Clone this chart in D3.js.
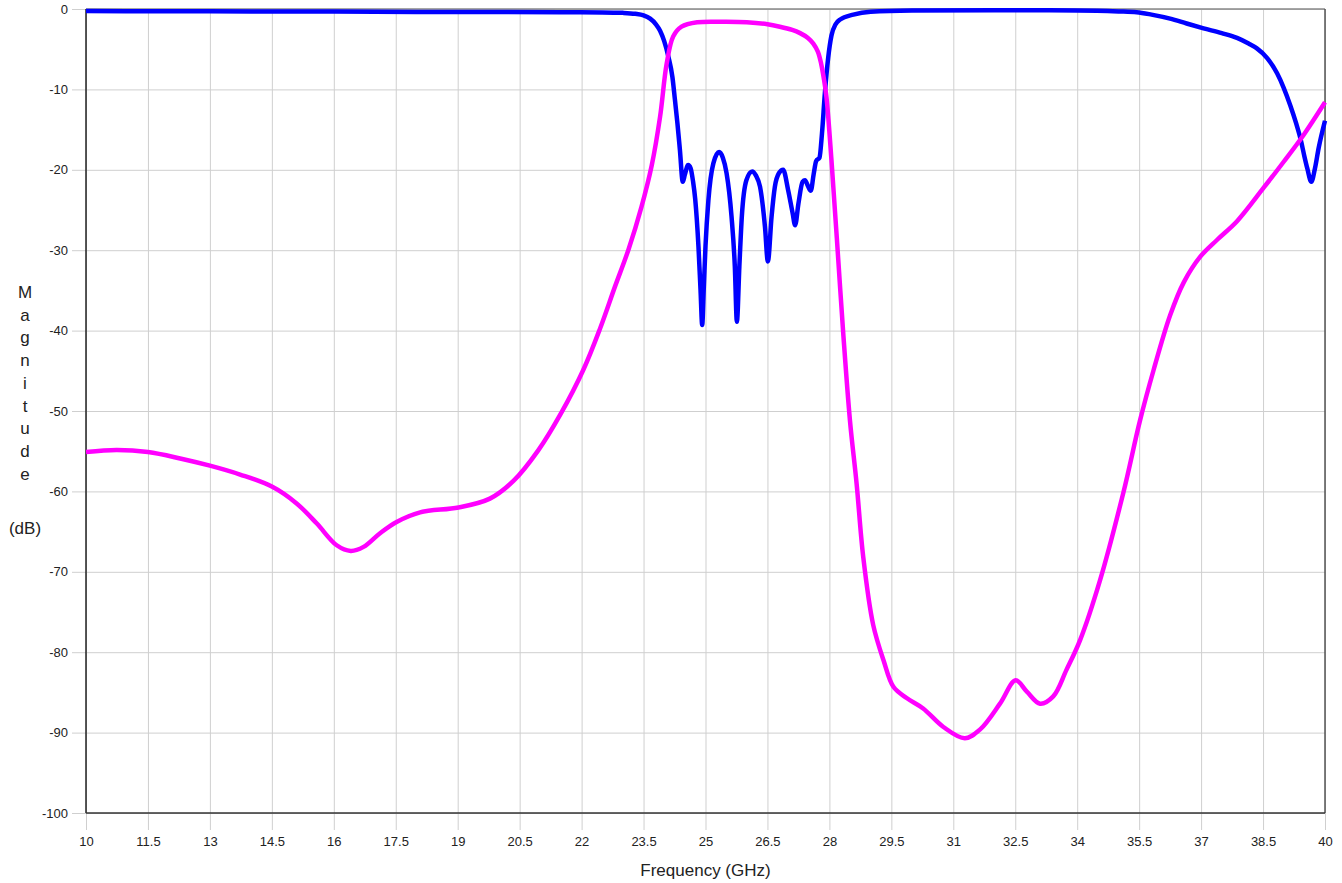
<!DOCTYPE html>
<html>
<head>
<meta charset="utf-8">
<script src="https://cdn.jsdelivr.net/npm/d3@7"></script>
<style>
  html, body { margin: 0; padding: 0; background: #fff; }
  svg text { font-family: "Liberation Sans Narrow", "Arial Narrow", "Liberation Sans", Arial, sans-serif; fill: #222; }
  .title { font-family: "Liberation Sans", Arial, sans-serif !important; }
</style>
</head>
<body>
<svg id="chart" width="1342" height="883"></svg>
<script>

// Data (GHz, dB)

var s11Freq = [10, 12, 14, 16, 18, 20, 21.5, 22.5, 23.0, 23.3, 23.5, 23.66, 23.8, 23.9, 24.0, 24.1, 24.2, 24.26,
  24.32, 24.38, 24.45, 24.5, 24.58, 24.64, 24.7, 24.75, 24.83, 24.88, 24.92, 24.96, 25.0, 25.07, 25.19, 25.33,
  25.42, 25.51, 25.63, 25.71, 25.76, 25.82, 25.88, 25.99, 26.13, 26.22, 26.32, 26.44, 26.51, 26.6, 26.68, 26.78,
  26.88, 27.0, 27.11, 27.17, 27.25, 27.35, 27.41, 27.48, 27.55, 27.62, 27.68, 27.76, 27.82, 27.89, 27.97, 28.05,
  28.15, 28.26, 28.58, 29.0, 30, 32, 34, 35.0, 35.44, 35.8, 36.25, 36.65, 37.06, 37.5, 37.87, 38.15, 38.35, 38.6,
  38.84, 39.0, 39.16, 39.3, 39.41, 39.5, 39.57, 39.67, 39.75, 39.85, 40];

var s11 = [-0.25, -0.28, -0.3, -0.32, -0.36, -0.38, -0.4, -0.42, -0.48, -0.6, -0.8, -1.2, -1.9, -2.7, -4.0, -5.9, -8.5, -11.3,
  -14.2, -17.5, -21.5, -20.6, -19.4, -19.8, -21.5, -23.6, -29.6, -35, -39.3, -34.5, -29.5, -23.8, -19.2, -17.8,
  -18.5, -20.4, -25.8, -32.0, -38.9, -32, -25.8, -21.3, -20.2, -20.7, -22.1, -27.1, -31.4, -25.8, -22.1, -20.4,
  -20.0, -22.5, -25.4, -26.9, -24.2, -21.5, -21.3, -22.0, -22.6, -20.5, -18.9, -18.5, -15.5, -10.5, -6.1, -3.3,
  -1.9, -1.3, -0.7, -0.35, -0.2, -0.15, -0.18, -0.3, -0.4, -0.7, -1.2, -1.8, -2.4, -3.0, -3.6, -4.3, -4.9, -6.1,
  -8.0, -9.8, -12.0, -14.2, -16.2, -18.3, -19.8, -21.5, -20.0, -17.2, -13.9];

var s21Freq = [10, 10.74, 11.5, 12.28, 13.0, 13.73, 14.5, 15.1, 15.59, 16.07, 16.41, 16.72, 17.12, 17.52, 18.09,
  19.02, 19.78, 20.35, 20.95, 21.5, 22.04, 22.45, 22.81, 23.13, 23.45, 23.7, 23.9, 24.06, 24.22, 24.42,
  24.8, 25.5, 26.0, 26.5, 26.8, 27.1, 27.29, 27.48, 27.61, 27.72, 27.8, 27.87, 27.93, 28.05, 28.18, 28.34, 28.5,
  28.66, 28.82, 29.06, 29.31, 29.55, 29.87, 30.27, 30.76, 31.28, 31.65, 32.13, 32.51, 32.78, 33.1, 33.42, 33.74,
  34.07, 34.55, 35.12, 35.52, 35.85, 36.25, 36.58, 36.98, 37.39, 37.87, 38.52, 39.0, 39.49, 40];

var s21 = [-55.1, -54.85, -55.1, -55.9, -56.8, -57.9, -59.4, -61.5, -64.0, -66.7, -67.4, -66.9, -65.2, -63.8, -62.6,
  -62.0, -60.9, -58.7, -54.9, -50.3, -44.9, -39.7, -34.5, -30.0, -24.6, -19.4, -13.4, -6.8, -3.4, -2.2,
  -1.65, -1.6, -1.66, -1.9, -2.2, -2.6, -3.0, -3.6, -4.3, -5.3, -6.8, -8.8, -11.0, -18.8, -28.5, -40.7, -51.3,
  -59.1, -68.2, -76.6, -81.0, -84.3, -85.7, -87.0, -89.3, -90.7, -89.6, -86.4, -83.5, -84.9, -86.4, -85.5, -82.2,
  -78.5, -71.1, -60.1, -51.2, -44.9, -38.1, -34.0, -30.8, -28.7, -26.4, -22.2, -19.0, -15.6, -11.6];

var xTicks = [10, 11.5, 13, 14.5, 16, 17.5, 19, 20.5, 22, 23.5, 25, 26.5, 28, 29.5, 31, 32.5, 34, 35.5, 37, 38.5, 40];
var yTicks = [0, -10, -20, -30, -40, -50, -60, -70, -80, -90, -100];

var yTitle = ["M", "a", "g", "n", "i", "t", "u", "d", "e"];

// Layout

var margin = {top: 9, right: 17, bottom: 70, left: 86},
    width = 1342 - margin.left - margin.right,
    height = 883 - margin.top - margin.bottom;

var svg = d3.select("#chart");
var g = svg.append("g").attr("transform", "translate(" + margin.left + "," + margin.top + ")");

var x = d3.scaleLinear().domain([10, 40]).range([0, width]);
var y = d3.scaleLinear().domain([-100, 0]).range([height, 0]);

// plain hyphen labels, as in the original
var plain = function(d) { return String(d); };

// Grid (lines run a little past the frame, like the original)

g.append("g")
  .attr("transform", "translate(0," + height + ")")
  .call(d3.axisBottom(x).tickValues(xTicks).tickSize(-height - 17).tickFormat(plain).tickPadding(10))
  .call(function(a) {
    a.select(".domain").remove();
    a.selectAll(".tick line").attr("stroke", "#cfcfcf").attr("y1", 17).attr("y2", -height);
    a.selectAll(".tick text").attr("font-size", 13).attr("dy", "0.71em").attr("y", 24);
  });

g.append("g")
  .call(d3.axisLeft(y).tickValues(yTicks).tickSize(0).tickFormat(plain).tickPadding(18))
  .call(function(a) {
    a.select(".domain").remove();
    a.selectAll(".tick line").attr("stroke", "#cfcfcf").attr("x1", -14).attr("x2", width);
    a.selectAll(".tick text").attr("font-size", 13);
  });

// Frame

g.append("line").attr("x1", 0).attr("x2", width).attr("y1", 0).attr("y2", 0)
  .attr("stroke", "#888").attr("stroke-width", 1.5);
g.append("line").attr("x1", width).attr("x2", width).attr("y1", 0).attr("y2", height)
  .attr("stroke", "#555").attr("stroke-width", 1.5);
g.append("line").attr("x1", 0).attr("x2", 0).attr("y1", 0).attr("y2", height)
  .attr("stroke", "#222").attr("stroke-width", 1.5);
g.append("line").attr("x1", 0).attr("x2", width).attr("y1", height).attr("y2", height)
  .attr("stroke", "#333").attr("stroke-width", 1.5);

// Traces

var line = d3.line()
  .x(function(d) { return x(d[0]); })
  .y(function(d) { return y(d[1]); })
  .curve(d3.curveMonotoneX);

var smooth = d3.line()
  .x(function(d) { return x(d[0]); })
  .y(function(d) { return y(d[1]); })
  .curve(d3.curveCatmullRom.alpha(0.5));

g.append("path")
  .datum(d3.zip(s11Freq, s11))
  .attr("fill", "none")
  .attr("stroke", "#0000ff")
  .attr("stroke-width", 4.5)
  .attr("stroke-linejoin", "round")
  .attr("d", line);

g.append("path")
  .datum(d3.zip(s21Freq, s21))
  .attr("fill", "none")
  .attr("stroke", "#ff00ff")
  .attr("stroke-width", 4.5)
  .attr("stroke-linejoin", "round")
  .attr("d", smooth);

// Axis titles

svg.append("text")
  .attr("class", "title")
  .attr("x", margin.left + width / 2)
  .attr("y", 876)
  .attr("text-anchor", "middle")
  .attr("font-size", 17)
  .text("Frequency (GHz)");

svg.selectAll(".ylet")
  .data(yTitle)
  .enter()
  .append("text")
  .attr("class", "title ylet")
  .attr("x", 25)
  .attr("y", function(d, i) { return 298 + i * 22.7; })
  .attr("text-anchor", "middle")
  .attr("font-size", 17)
  .text(function(d) { return d; });

svg.append("text")
  .attr("class", "title")
  .attr("x", 25)
  .attr("y", 534)
  .attr("text-anchor", "middle")
  .attr("font-size", 17)
  .text("(dB)");

</script>
</body>
</html>
